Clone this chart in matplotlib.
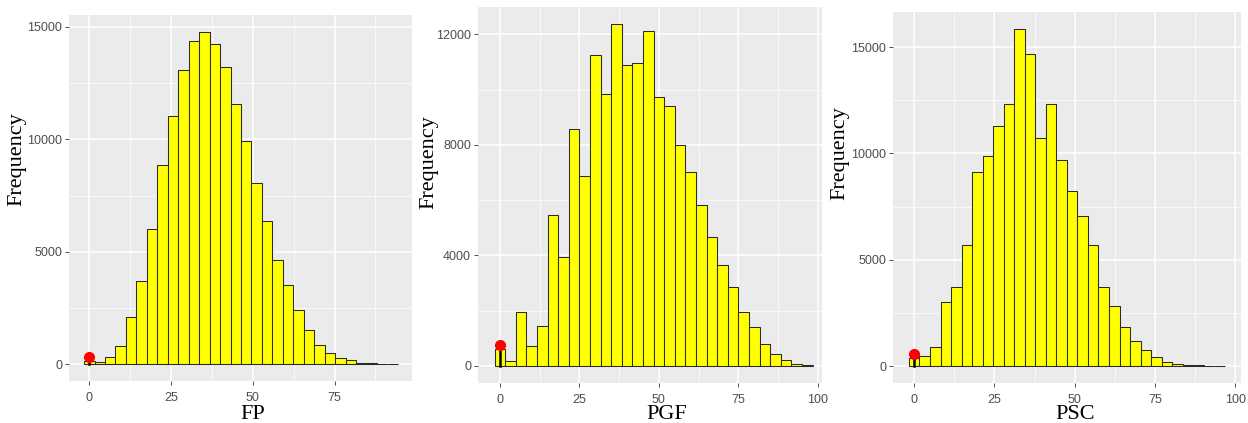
import numpy as np
import matplotlib
matplotlib.use('Agg')
import matplotlib.pyplot as plt
from matplotlib.ticker import MultipleLocator

# bin counts (30 bins each, first bin centred on 0)
fp_counts = [150, 100, 320, 810, 2090, 3720, 6030, 8850, 11050, 13080,
             14380, 14780, 14220, 13230, 11560, 9930, 8070, 6390, 4630, 3540,
             2420, 1530, 880, 520, 300, 180, 80, 40, 20, 10]
pgf_counts = [630, 180, 1960, 730, 1450, 5450, 3950, 8580, 6860, 11250,
              9840, 12370, 10890, 10960, 12130, 9730, 9400, 8010, 7000, 5820,
              4650, 3640, 2870, 1960, 1390, 780, 420, 200, 70, 30]
psc_counts = [360, 470, 890, 3030, 3720, 5710, 9140, 9900, 11310, 12310,
              15860, 14700, 10730, 12340, 9710, 8230, 7050, 5690, 3720, 2830,
              1830, 1190, 770, 420, 200, 110, 50, 30, 15, 5]
bin_widths = [3.2, 3.333, 3.28]
observed = [320, 750, 550]  # red markers at x = 0
x_titles = ['FP', 'PGF', 'PSC']
y_ticks = [[0, 5000, 10000, 15000], [0, 4000, 8000, 12000], [0, 5000, 10000, 15000]]
x_ticks = [[0, 25, 50, 75], [0, 25, 50, 75, 100], [0, 25, 50, 75, 100]]

W, H = 1248, 423
fig = plt.figure(figsize=(W / 100, H / 100), dpi=100)

# panel rectangles in pixels: left, top, right, bottom
rects = [(69, 15, 412, 381), (478, 7, 822, 383), (893, 12, 1241, 383)]
# measured x data limits of each panel
xlims = [(-6.2, 98.7), (-6.9, 101.3), (-6.6, 101.8)]
ylab_pos = [(17, 159), (429, 162), (840, 153)]
xlab_pos = [(253, 419), (667, 419), (1075, 419)]

all_counts = [fp_counts, pgf_counts, psc_counts]
grey = '#4D4D4D'

for i in range(3):
    l, t, r, b = rects[i]
    ax = fig.add_axes([l / W, 1 - b / H, (r - l) / W, (b - t) / H])
    counts = np.array(all_counts[i])
    w = bin_widths[i]
    centers = np.arange(len(counts)) * w

    ax.set_facecolor('#EBEBEB')
    ax.bar(centers, counts, width=w, color='#FFFF00', edgecolor='#2a2a2a',
           linewidth=0.75, zorder=3)
    ax.plot([0, 0], [0, observed[i]], color='black', linewidth=1.8, zorder=4)
    ax.plot([0], [observed[i]], 'o', color='#FF0000', markersize=7, zorder=5)

    top = max(counts.max(), observed[i])
    ax.set_ylim(-0.05 * top, 1.05 * top)
    ax.set_xlim(*xlims[i])

    ax.set_xticks(x_ticks[i])
    ax.set_yticks(y_ticks[i])
    ax.xaxis.set_minor_locator(MultipleLocator(12.5))
    ystep = y_ticks[i][1] - y_ticks[i][0]
    ax.yaxis.set_minor_locator(MultipleLocator(ystep / 2))
    ax.grid(which='major', color='white', linewidth=1.1, zorder=0)
    ax.grid(which='minor', color='white', linewidth=0.5, zorder=0)
    ax.set_axisbelow(True)
    for s in ax.spines.values():
        s.set_visible(False)
    ax.tick_params(which='major', length=3, width=0.6, color='#333333',
                   labelsize=9, labelcolor=grey, pad=2)
    ax.tick_params(axis='x', which='major', pad=5)
    ax.tick_params(which='minor', length=0)
    for lab in ax.get_xticklabels() + ax.get_yticklabels():
        lab.set_family('Liberation Sans')

    fig.text(xlab_pos[i][0] / W, 1 - xlab_pos[i][1] / H, x_titles[i],
             family='Liberation Serif', fontsize=16, ha='center', va='baseline')
    fig.text(ylab_pos[i][0] / W, 1 - ylab_pos[i][1] / H, 'Frequency',
             family='Liberation Serif', fontsize=16, ha='center', va='center',
             rotation=90)

plt.savefig('out.png', dpi=100)
